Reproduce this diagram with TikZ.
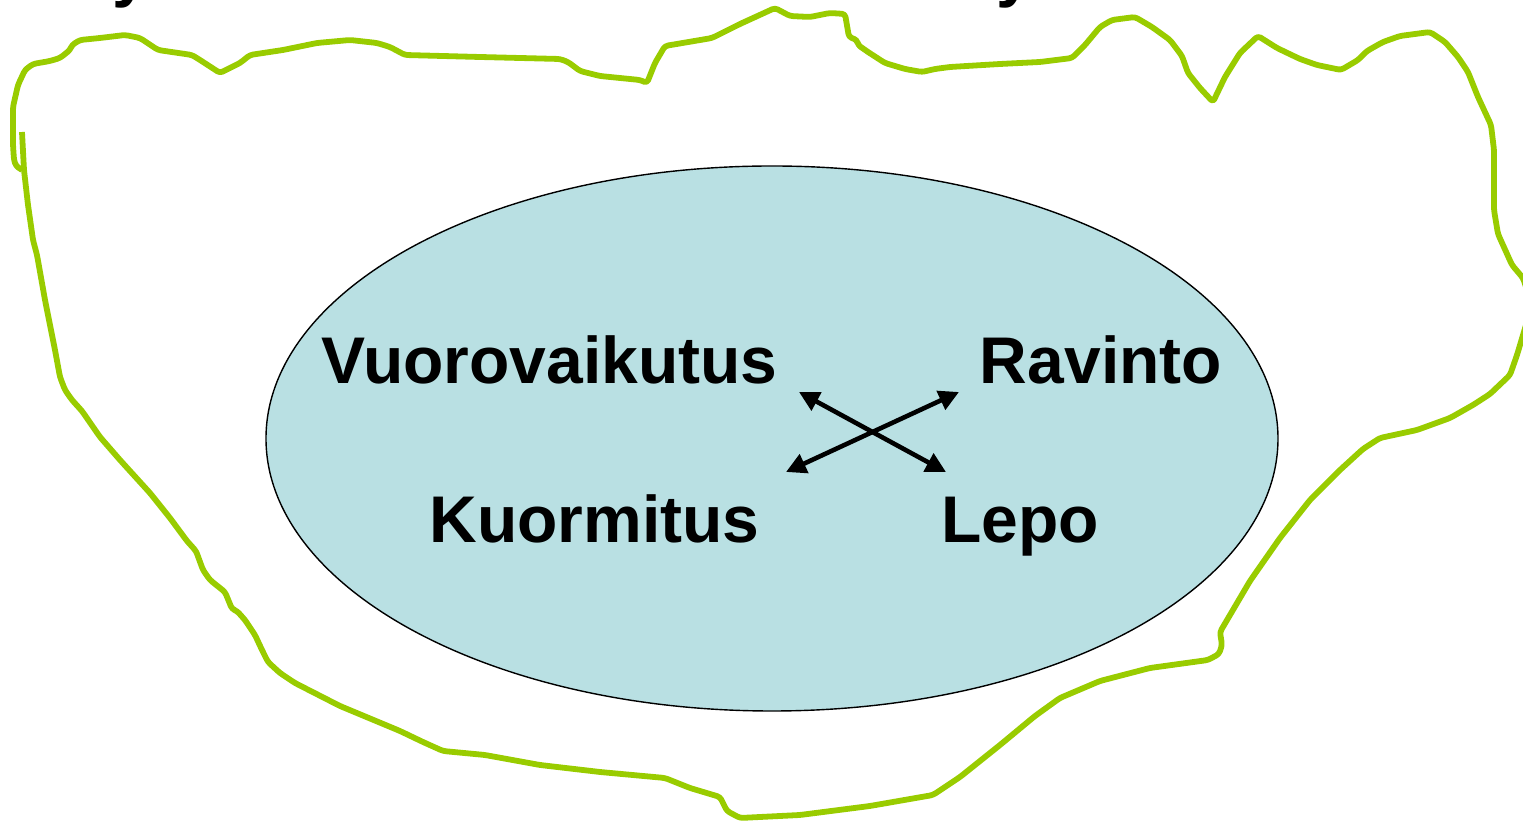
\documentclass[tikz,border=0pt]{standalone}
\usepackage{fontspec}
\setmainfont{Liberation Sans}
\usetikzlibrary{arrows.meta,shapes.geometric}
\definecolor{lime}{HTML}{99CC00}
\definecolor{paleteal}{HTML}{B9E0E3}

\begin{document}
\begin{tikzpicture}[x=0.5pt,y=-0.5pt,every node/.style={font=\fontsize{33}{40}\selectfont\bfseries,inner sep=0pt,anchor=base}]
\useasboundingbox (0,0) rectangle (1523,822);
\tikzset{twoway/.style={{Triangle[length=10pt,width=10pt]}-{Triangle[length=10pt,width=10pt]},line width=2.3pt}}
% title fragments cut by the frame
\node[anchor=base west] (ta) at (112,-5) {y};
\node[anchor=base west] (tb) at (996,-5) {y};
% green outline
\draw[lime,line width=2.9pt,line join=round,rounded corners=1.5pt] (22,132) -- (24,170) -- (28,205) -- (33,240) -- (37,255) -- (45,300) -- (55,350) -- (60,377) -- (65,390) -- (72,400) -- (82,411) -- (100,437) -- (120,460) -- (150,493) -- (170,518) -- (187,541) -- (196,551) -- (203,570) -- (210,580) -- (225,592) -- (232,609) -- (237,611) -- (245,620) -- (255,635) -- (262,650) -- (268,662) -- (280,673) -- (295,683) -- (340,706) -- (400,731) -- (423,742) -- (443,751) -- (485,755) -- (540,765) -- (600,772) -- (665,778) -- (690,788) -- (720,797) -- (727,811) -- (740,818) -- (800,815) -- (870,806) -- (933,795) -- (960,777) -- (1000,745) -- (1035,716) -- (1060,698) -- (1100,681) -- (1150,668) -- (1208,660) -- (1219,654) -- (1222,645) -- (1220,632) -- (1250,581) -- (1280,538) -- (1310,500) -- (1340,470) -- (1363,449) -- (1380,438) -- (1417,430) -- (1450,418) -- (1473,405) -- (1490,394) -- (1510,375) -- (1517,355) -- (1523,335) -- (1532,305) -- (1523,278) -- (1512,265) -- (1498,234) -- (1494,210) -- (1494,150) -- (1491,125) -- (1478,97) -- (1468,72) -- (1458,57) -- (1445,42) -- (1430,32) -- (1400,36) -- (1383,42) -- (1367,51) -- (1358,60) -- (1341,70) -- (1317,65) -- (1300,59) -- (1277,48) -- (1258,36) -- (1240,53) -- (1225,77) -- (1213,102) -- (1200,88) -- (1188,73) -- (1182,56) -- (1170,40) -- (1152,27) -- (1135,17) -- (1112,20) -- (1100,27) -- (1085,45) -- (1072,58) -- (1040,62) -- (1000,64) -- (950,67) -- (935,69) -- (922,72) -- (905,69) -- (885,63) -- (868,52) -- (858,45) -- (857,40) -- (849,37) -- (845,14) -- (830,13) -- (810,17) -- (790,16) -- (775,8) -- (740,24) -- (712,38) -- (665,46) -- (655,63) -- (647,83) -- (640,80) -- (600,76) -- (580,71) -- (568,62) -- (560,59) -- (480,57) -- (405,55) -- (390,47) -- (377,43) -- (350,40) -- (317,43) -- (283,50) -- (250,55) -- (240,63) -- (220,73) -- (200,60) -- (192,55) -- (158,50) -- (140,38) -- (125,35) -- (100,38) -- (80,40) -- (72,45) -- (70,50) -- (60,58) -- (50,61) -- (33,64) -- (25,70) -- (18,85) -- (13,107) -- (13,145) -- (14,160) -- (16,166) -- (22,170);
% inner ellipse
\node[ellipse,draw=black,line width=0.7pt,fill=paleteal,minimum width=506pt,minimum height=272.5pt,anchor=center] (oval) at (772,438.5) {};
\node (vuoro) at (549.5,384) {Vuorovaikutus};
\node (ravinto) at (1101,384) {Ravinto};
\node (kuorm) at (594.5,543) {Kuormitus};
\node (lepo) at (1020,543) {Lepo};
\coordinate (vuoro-end) at (799,392);
\coordinate (lepo-end) at (946,472);
\coordinate (kuorm-end) at (786,472);
\coordinate (ravinto-end) at (959,392);
\draw[twoway] (vuoro-end) -- (lepo-end);
\draw[twoway] (kuorm-end) -- (ravinto-end);
\end{tikzpicture}
\end{document}
